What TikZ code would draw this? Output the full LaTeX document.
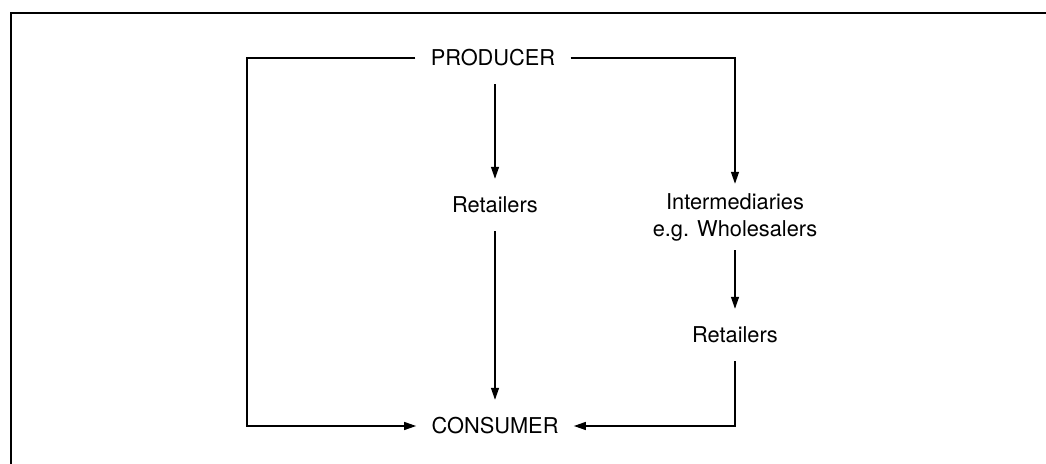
\documentclass[tikz,border=0pt]{standalone}
\usepackage{fontspec}
\setmainfont{TeX Gyre Heros}
\usetikzlibrary{arrows.meta}
\begin{document}
\begin{tikzpicture}[x=0.5pt,y=-0.5pt,
  label/.style={font=\fontsize{10.9}{13.5}\selectfont, inner xsep=7.5pt, inner ysep=9pt,
    text height=7.8pt, text depth=0pt},
  twoline/.style={font=\fontsize{10.9}{13.5}\selectfont, align=center, inner xsep=8pt, inner ysep=4.5pt},
  flow/.style={line width=0.65pt, -{Triangle[length=6pt,width=4pt]}}]
  \useasboundingbox (0,0) rectangle (1046,464);
  % open frame: top and left edges only
  \draw[line width=1pt] (11,470) -- (11,13) -- (1060,13);

  \node[label] (prod) at (493,58) {PRODUCER};
  \node[label] (cons) at (495,426) {CONSUMER};
  \node[label] (ret1) at (495,205) {Retailers};
  \node[twoline] (inter) at (735,217) {Intermediaries\\e.g. Wholesalers};
  \node[label] (ret2) at (735,335) {Retailers};
  \coordinate (lcorner) at (247,58);

  % direct channel
  \draw[flow] (prod.west) -| (lcorner |- cons) -- (cons.west);
  % via retailers
  \draw[flow] (prod.south -| ret1) -- (ret1.north);
  \draw[flow] (ret1.south) -- (cons.north);
  % via intermediaries and retailers
  \draw[flow] (prod.east) -| (inter.north);
  \draw[flow] (inter.south -| ret2) -- (ret2.north);
  \draw[flow] (ret2.south) |- (cons.east);
\end{tikzpicture}
\end{document}
